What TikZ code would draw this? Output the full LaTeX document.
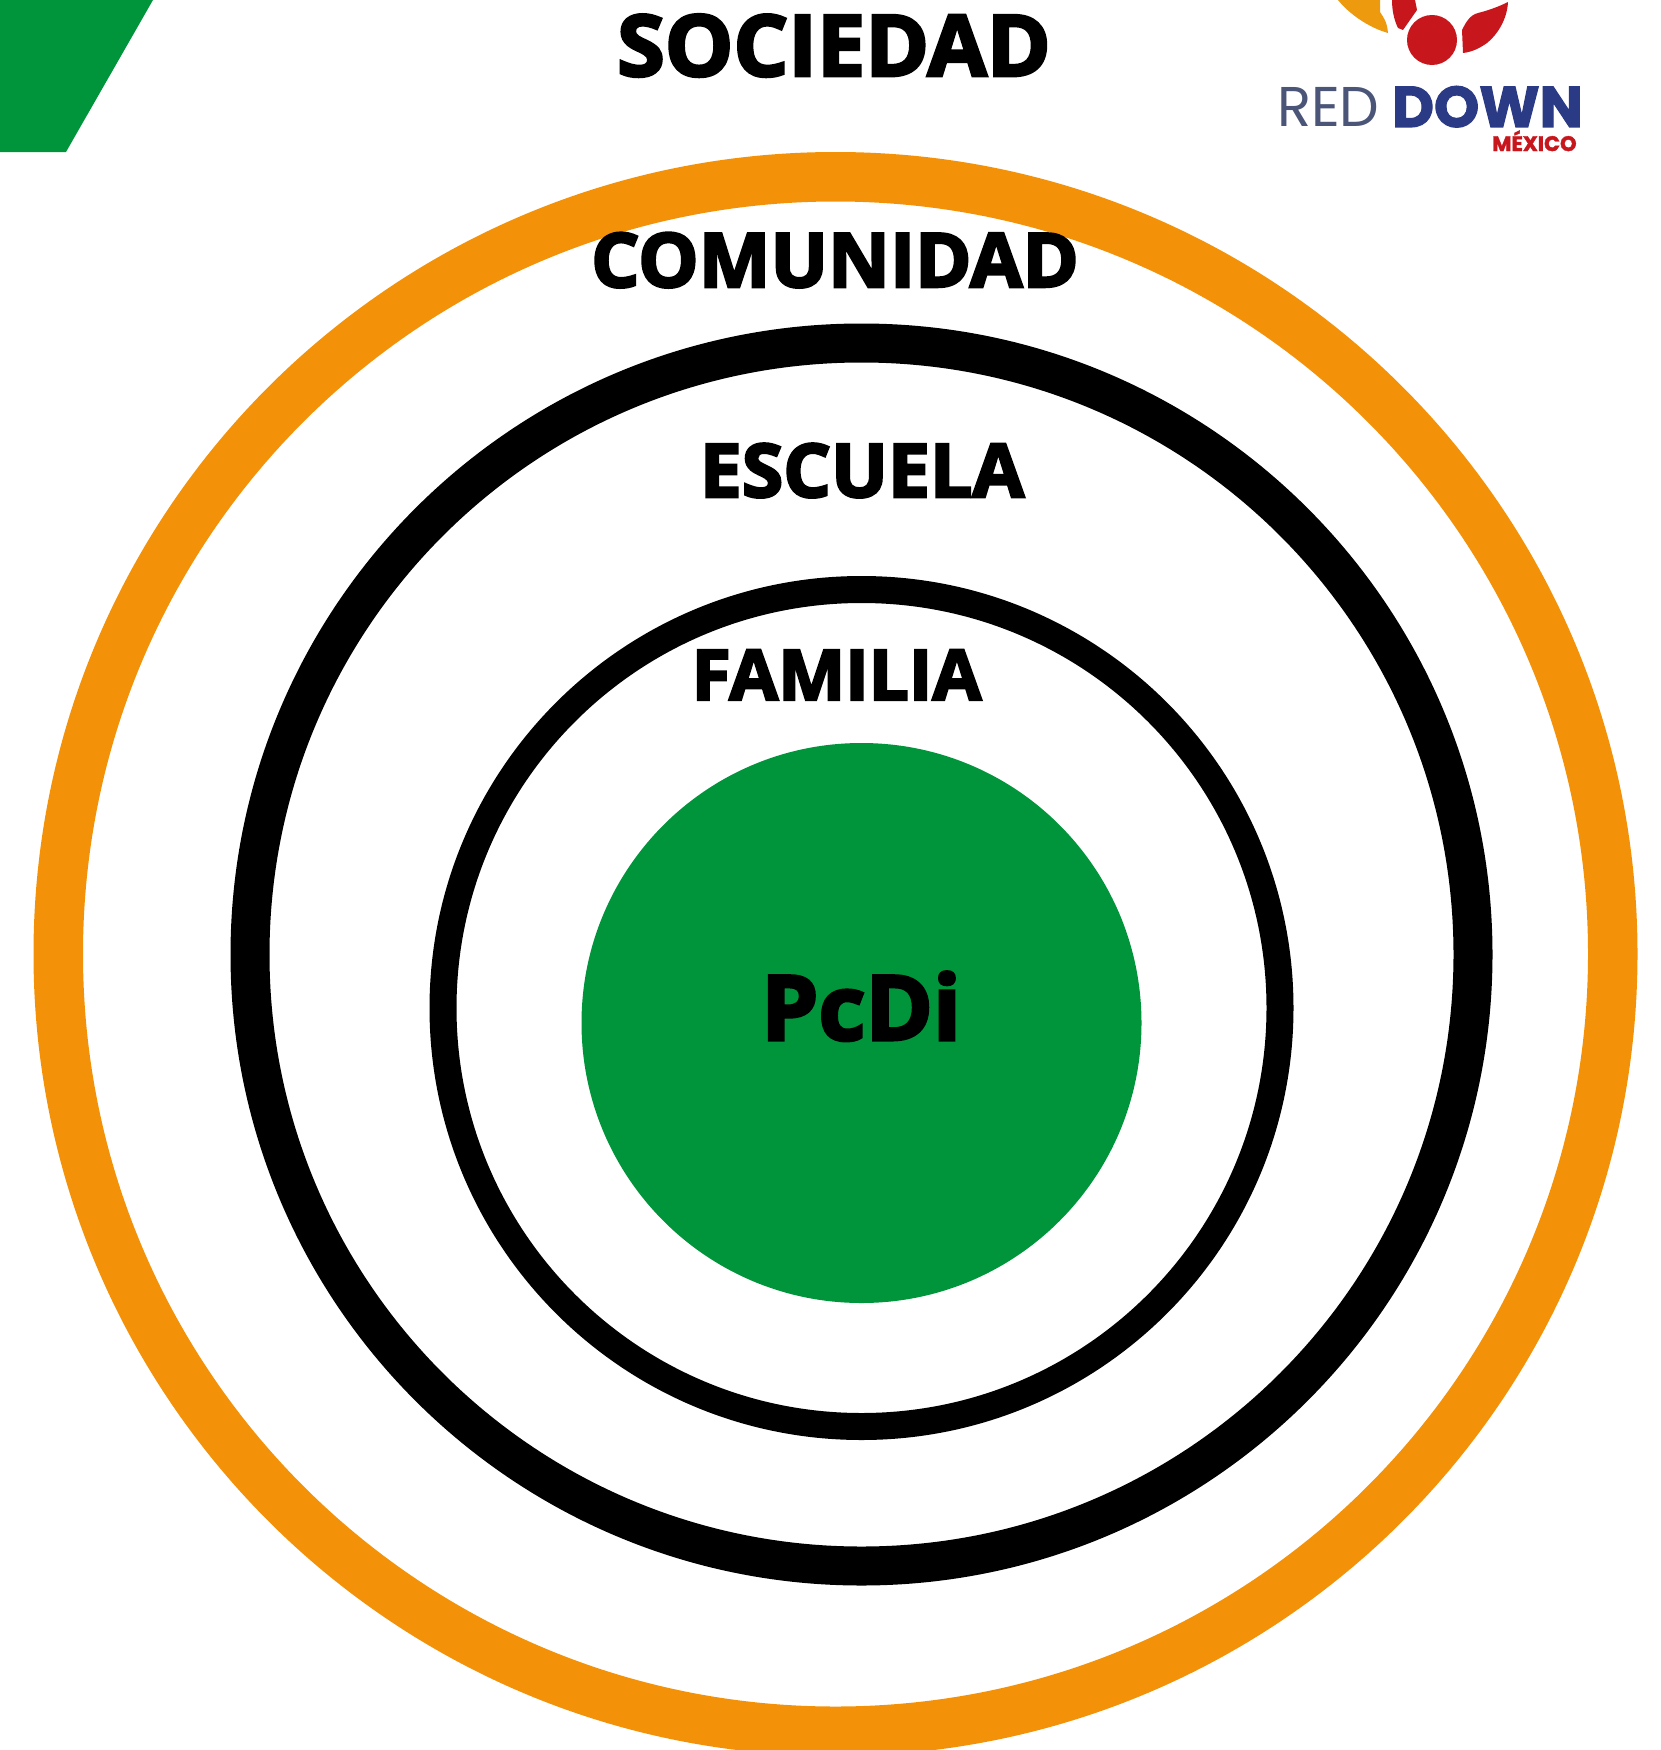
\documentclass[tikz,border=0pt]{standalone}
\usepackage{fontspec}
\setmainfont{Open Sans}[BoldFeatures={FakeBold=3.4,FakeStretch=1.015}]
\newfontfamily\logolight{Poppins}
\newfontfamily\logoheavy{Poppins}[UprightFeatures={FakeBold=2},BoldFeatures={FakeBold=2}]
\definecolor{rdgreen}{HTML}{00953B}
\definecolor{rdorange}{HTML}{F39208}
\definecolor{logored}{HTML}{C8161D}
\definecolor{logoorange}{HTML}{EE9A0E}
\definecolor{logonavy}{HTML}{2A3A85}
\definecolor{logoslate}{HTML}{4A5578}
\tikzset{
  ringlabel/.style={anchor=base,inner sep=0pt,text=black,font=\bfseries\fontsize{#1}{#1}\selectfont},
  logolabel/.style={anchor=base west,inner sep=0pt}
}
\begin{document}
\begin{tikzpicture}[x=1pt,y=-1pt]
\path[use as bounding box] (0,0) rectangle (1660,1750);
\clip (0,0) rectangle (1660,1750);
\fill[white] (0,0) rectangle (1660,1750);
\fill[rdgreen] (0,0) -- (153,0) -- (66,152) -- (0,152) -- cycle;
\draw[rdorange,line width=49.5pt] (835.5,954) circle[radius=777.25];
\draw[black,line width=39pt] (861.5,954.5) circle[radius=611.5];
\draw[black,line width=27pt] (861.5,1008) circle[radius=418.5];
\fill[rdgreen] (861.5,1023) circle[radius=280];
\node[ringlabel=85] (sociedad) at (834,76) {SOCIEDAD};
\node[ringlabel=75] (comunidad) at (835,287) {COMUNIDAD};
\node[ringlabel=74] (escuela) at (862,497) {ESCUELA};
\node[ringlabel=70] (familia) at (836.5,700) {FAMILIA};
\node[ringlabel=90] (pcdi) at (861,1040) {PcDi};
% logo
\fill[logored] (1432,40) circle[radius=25];
\fill[logored] (1392,0) -- (1415,0) -- (1417,10) -- (1403,30) -- (1398,28) .. controls (1394,20) and (1392,10) .. (1392,0) -- cycle;
\fill[logored] (1462,30) .. controls (1466,22) and (1470,15) .. (1478,13) .. controls (1490,10) and (1500,6) .. (1508,2) .. controls (1507,20) and (1497,35) .. (1487,43) .. controls (1480,48) and (1472,52) .. (1463,53) -- cycle;
\fill[logoorange] (1338,0) .. controls (1350,15) and (1370,28) .. (1388,33) .. controls (1387,22) and (1384,18) .. (1380,12) -- (1380,0) -- cycle;
\node[logolabel,text=logoslate,font=\logolight\fontsize{56}{56}\selectfont] (redword) at (1277,127) {RED};
\node[logolabel,text=logonavy,font=\logoheavy\bfseries\fontsize{57.5}{57.5}\selectfont] (downword) at (1392,127) {DOWN};
\node[logolabel,text=logored,font=\logoheavy\bfseries\fontsize{21}{21}\selectfont] (mexicoword) at (1492,151) {MÉXICO};
\end{tikzpicture}
\end{document}
